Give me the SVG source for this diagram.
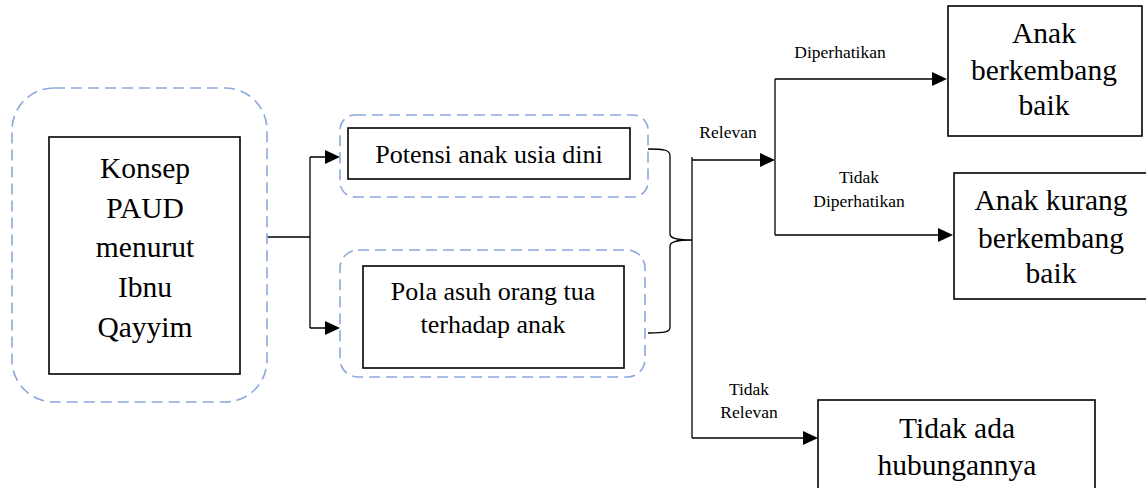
<svg xmlns="http://www.w3.org/2000/svg" width="1146" height="488" viewBox="0 0 1146 488">
<style>
.dash{fill:none;stroke:#8aa8dc;stroke-width:1.6;stroke-dasharray:11 6}
.box{fill:#fff;stroke:#000;stroke-width:1.6}
.ln{fill:none;stroke:#000;stroke-width:1.3}
.ah{fill:#000}
</style>
<g id="connectors">
<path class="ln" d="M267,237 H310 M310,157 V328"/>
<path class="ln" d="M310,157 H326 M310,328 H326"/>
<polygon class="ah" points="325,150 340,157 325,164"/>
<polygon class="ah" points="325,321 340,328 325,335"/>
<path class="ln" d="M648,149 C665,149 670,150 670,156 V234 C670,238 675,240 692,240 M692,240 C675,240 670,242 670,246 V327 C670,332 665,333 648,333"/>
<path class="ln" d="M692,157 V438"/>
<path class="ln" d="M692,160 H761"/>
<polygon class="ah" points="760,153 775,160 760,167"/>
<path class="ln" d="M775,79 V235"/>
<path class="ln" d="M775,79 H933"/>
<polygon class="ah" points="932,72 947,79 932,86"/>
<path class="ln" d="M775,235 H939"/>
<polygon class="ah" points="938,228 953,235 938,242"/>
<path class="ln" d="M692,438 H804"/>
<polygon class="ah" points="803,431 818,438 803,445"/>
<text font-family="Liberation Serif" font-size="17.5" text-anchor="middle" x="840" y="58">Diperhatikan</text>
<text font-family="Liberation Serif" font-size="17.5" text-anchor="middle" x="728" y="138">Relevan</text>
<text font-family="Liberation Serif" font-size="17.5" text-anchor="middle" x="859" y="183">Tidak</text>
<text font-family="Liberation Serif" font-size="17.5" text-anchor="middle" x="859" y="207">Diperhatikan</text>
<text font-family="Liberation Serif" font-size="17.5" text-anchor="middle" x="749" y="395">Tidak</text>
<text font-family="Liberation Serif" font-size="17.5" text-anchor="middle" x="749" y="418">Relevan</text>
</g>
<g id="konsep">
<rect class="dash" x="12" y="88" width="255" height="314" rx="42"/>
<rect class="box" x="49" y="137" width="191" height="237"/>
<text font-family="Liberation Serif" font-size="29.5" text-anchor="middle" x="145" y="178">Konsep</text>
<text font-family="Liberation Serif" font-size="29.5" text-anchor="middle" x="145" y="218">PAUD</text>
<text font-family="Liberation Serif" font-size="29.5" text-anchor="middle" x="145" y="257">menurut</text>
<text font-family="Liberation Serif" font-size="29.5" text-anchor="middle" x="145" y="297">Ibnu</text>
<text font-family="Liberation Serif" font-size="29.5" text-anchor="middle" x="145" y="337">Qayyim</text>
</g>
<g id="potensi">
<rect class="dash" x="340" y="115" width="308" height="82" rx="15"/>
<rect class="box" x="348" y="128" width="282" height="51"/>
<text font-family="Liberation Serif" font-size="26" text-anchor="middle" x="489" y="163">Potensi anak usia dini</text>
</g>
<g id="pola">
<rect class="dash" x="340" y="250" width="305" height="127" rx="18"/>
<rect class="box" x="363" y="266" width="261" height="102"/>
<text font-family="Liberation Serif" font-size="26" text-anchor="middle" x="493" y="300">Pola asuh orang tua</text>
<text font-family="Liberation Serif" font-size="26" text-anchor="middle" x="493" y="333">terhadap anak</text>
</g>
<g id="baik">
<rect class="box" x="948" y="6" width="194" height="130"/>
<text font-family="Liberation Serif" font-size="29.5" text-anchor="middle" x="1044" y="43">Anak</text>
<text font-family="Liberation Serif" font-size="29.5" text-anchor="middle" x="1044" y="80">berkembang</text>
<text font-family="Liberation Serif" font-size="29.5" text-anchor="middle" x="1044" y="115">baik</text>
</g>
<g id="kurang">
<rect class="box" x="954" y="173" width="200" height="126"/>
<text font-family="Liberation Serif" font-size="29.5" text-anchor="middle" x="1051" y="210">Anak kurang</text>
<text font-family="Liberation Serif" font-size="29.5" text-anchor="middle" x="1051" y="248">berkembang</text>
<text font-family="Liberation Serif" font-size="29.5" text-anchor="middle" x="1051" y="283">baik</text>
</g>
<g id="tidakada">
<rect class="box" x="818" y="400" width="277" height="100"/>
<text font-family="Liberation Serif" font-size="29.5" text-anchor="middle" x="957" y="438">Tidak ada</text>
<text font-family="Liberation Serif" font-size="29.5" text-anchor="middle" x="957" y="475">hubungannya</text>
</g>
</svg>
